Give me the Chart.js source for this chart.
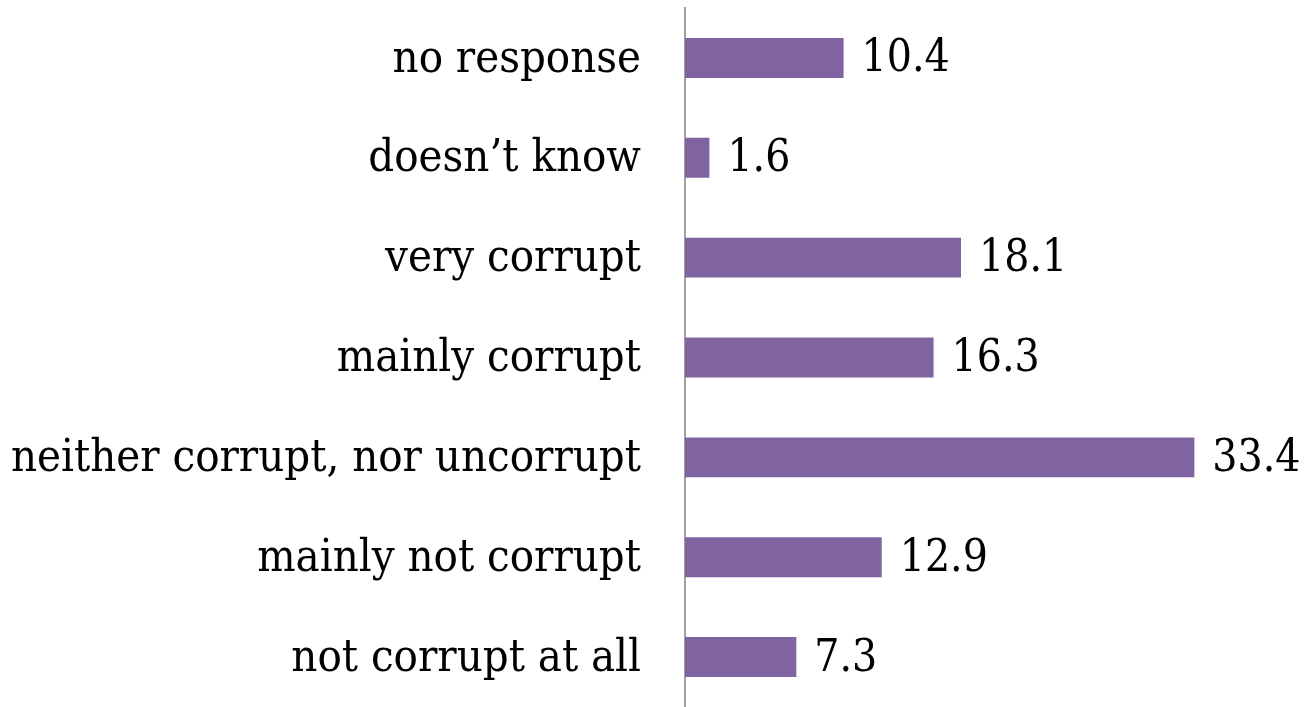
<!DOCTYPE html>
<html lang="en">
<head>
    <meta charset="UTF-8">
    <title>Corruption perception</title>
    <script src="https://cdn.jsdelivr.net/npm/chart.js"></script>
    <style>
        html, body {
            margin: 0;
            padding: 0;
            background: #ffffff;
        }
        #wrap {
            width: 1307px;
            height: 707px;
        }
    </style>
</head>
<body>

<div id="wrap">
    <canvas id="barChart"></canvas>
</div>

<script>
    const categories = [
        'no response',
        'doesn\u2019t know',
        'very corrupt',
        'mainly corrupt',
        'neither corrupt, nor uncorrupt',
        'mainly not corrupt',
        'not corrupt at all'
    ];
    const shares = [10.4, 1.6, 18.1, 16.3, 33.4, 12.9, 7.3];

    const fontFamily = '"DejaVu Serif Condensed", "Liberation Serif", serif';

    // draws the value next to the end of each bar
    const valueLabels = {
        id: 'valueLabels',
        afterDatasetsDraw(chart) {
            const ctx = chart.ctx;
            const meta = chart.getDatasetMeta(0);
            ctx.save();
            ctx.font = '44px ' + fontFamily;
            ctx.fillStyle = '#000000';
            ctx.textAlign = 'left';
            ctx.textBaseline = 'middle';
            meta.data.forEach(function (bar, i) {
                ctx.fillText(shares[i].toFixed(1), bar.x + 18, bar.y + 2);
            });
            ctx.restore();
        }
    };

    new Chart(document.getElementById('barChart'), {
        type: 'bar',
        data: {
            labels: categories,
            datasets: [{
                data: shares,
                backgroundColor: '#8064A2',
                borderWidth: 0,
                barPercentage: 0.4,
                categoryPercentage: 1.0
            }]
        },
        options: {
            indexAxis: 'y',
            responsive: true,
            maintainAspectRatio: false,
            animation: false,
            layout: {
                padding: { top: 8, right: 12, bottom: 0, left: 0 }
            },
            plugins: {
                legend: { display: false },
                tooltip: { enabled: false }
            },
            scales: {
                x: {
                    display: false,
                    min: 0,
                    max: 40
                },
                y: {
                    afterFit(scale) {
                        scale.width = 685;
                        // tick padding otherwise eats into the plot height
                        scale.paddingTop = 0;
                        scale.paddingBottom = 0;
                    },
                    grid: {
                        display: false,
                        drawTicks: false
                    },
                    border: {
                        display: true,
                        color: '#a0a0a0',
                        width: 2
                    },
                    ticks: {
                        color: '#000000',
                        padding: 44,
                        labelOffset: 2,
                        font: { family: fontFamily, size: 45 }
                    }
                }
            }
        },
        plugins: [valueLabels]
    });
</script>

</body>
</html>
